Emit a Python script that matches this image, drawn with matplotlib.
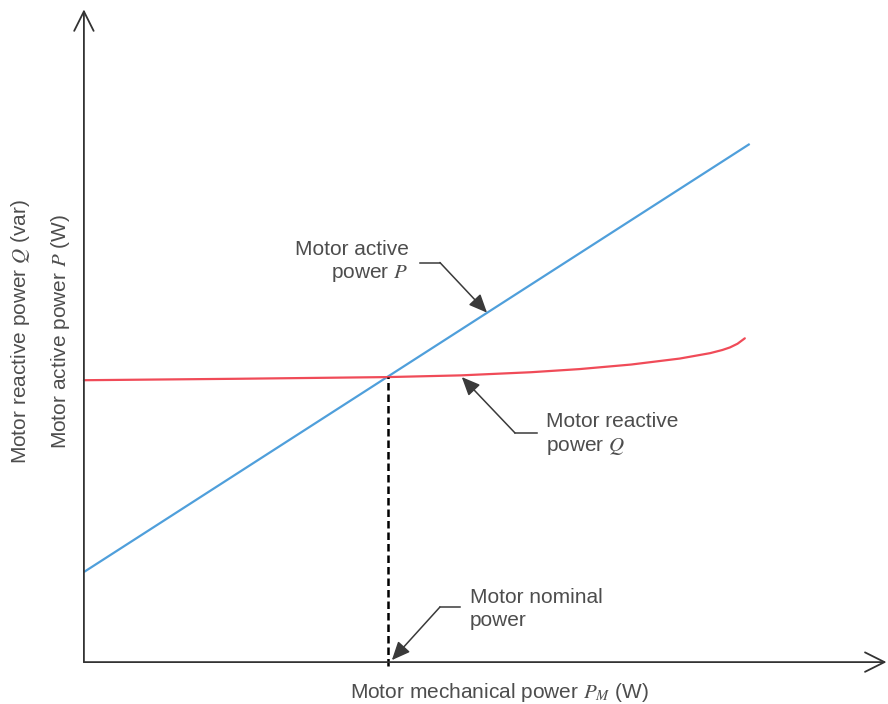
import numpy as np
import matplotlib
matplotlib.use("Agg")
import matplotlib.pyplot as plt

plt.rcParams['font.family'] = ['Liberation Sans', 'DejaVu Sans']
plt.rcParams['mathtext.fontset'] = 'stix'

# schematic values (arbitrary units, nominal power = 1)
p_mech = [0.0, 2.19]
p_active = [0.316, 1.818]

q_mech = [0.0, 0.5, 1.0, 1.24, 1.47, 1.63, 1.80, 1.96, 2.06, 2.10, 2.125, 2.15, 2.174]
q_reactive = [0.989, 0.994, 1.0, 1.006, 1.017, 1.028, 1.044, 1.065, 1.084, 1.095,
              1.104, 1.117, 1.136]

nominal_power = 1.0
nominal_q = 1.0

text_color = '#4d4d4d'
arrow_color = '#3a3a3a'
axis_color = '#333333'

fig = plt.figure(figsize=(8.88, 7.04), dpi=100)
ax = fig.add_axes([0, 0, 1, 1])
ax.set_xlim(-0.276, 2.645)
ax.set_ylim(-0.147, 2.323)
ax.axis('off')

# axes with open arrow heads
ax.annotate('', xy=(2.64, 0), xytext=(0, 0),
            arrowprops=dict(arrowstyle='->,head_length=0.7,head_width=0.35', lw=1.3,
                            color=axis_color, shrinkA=0, shrinkB=0, mutation_scale=20))
ax.annotate('', xy=(0, 2.29), xytext=(0, 0),
            arrowprops=dict(arrowstyle='->,head_length=0.7,head_width=0.35', lw=1.3,
                            color=axis_color, shrinkA=0, shrinkB=0, mutation_scale=20))

# curves
ax.plot(p_mech, p_active, color='#4f9fdb', lw=1.6, solid_capstyle='butt')
ax.plot(q_mech, q_reactive, color='#f04b58', lw=1.6, solid_capstyle='round',
        solid_joinstyle='round')

# nominal power marker
ax.plot([nominal_power, nominal_power], [-0.012, nominal_q], color='black', lw=1.8,
        linestyle=(0, (3, 1.6)))

fs = 15


def callout(corner, end, target):
    ax.plot([end[0], corner[0]], [end[1], corner[1]], color=arrow_color, lw=1.1)
    ax.annotate('', xy=target, xytext=corner,
                arrowprops=dict(arrowstyle='-|>,head_length=0.8,head_width=0.35',
                                lw=1.1, color=arrow_color, shrinkA=0, shrinkB=0,
                                mutation_scale=14))


# active power callout
callout((1.171, 1.402), (1.105, 1.402), (1.326, 1.226))
ax.text(1.068, 1.404, 'Motor active\npower $P$', ha='right', va='center',
        fontsize=fs, color=text_color, linespacing=1.3)

# reactive power callout
callout((1.418, 0.804), (1.49, 0.804), (1.243, 1.0))
ax.text(1.52, 0.798, 'Motor reactive\npower $Q$', ha='left', va='center',
        fontsize=fs, color=text_color, linespacing=1.3)

# nominal power callout
callout((1.171, 0.193), (1.237, 0.193), (1.013, 0.007))
ax.text(1.27, 0.187, 'Motor nominal\npower', ha='left', va='center',
        fontsize=fs, color=text_color, linespacing=1.3)

# axis labels
ax.text(1.368, -0.105, 'Motor mechanical power $P_M$ (W)', ha='center', va='center',
        fontsize=fs, color=text_color)
ax.text(-0.207, 1.16, 'Motor reactive power $Q$ (var)', ha='center', va='center',
        rotation=90, fontsize=fs, color=text_color)
ax.text(-0.078, 1.16, 'Motor active power $P$ (W)', ha='center', va='center',
        rotation=90, fontsize=fs, color=text_color)

fig.savefig('out.png', dpi=100)
